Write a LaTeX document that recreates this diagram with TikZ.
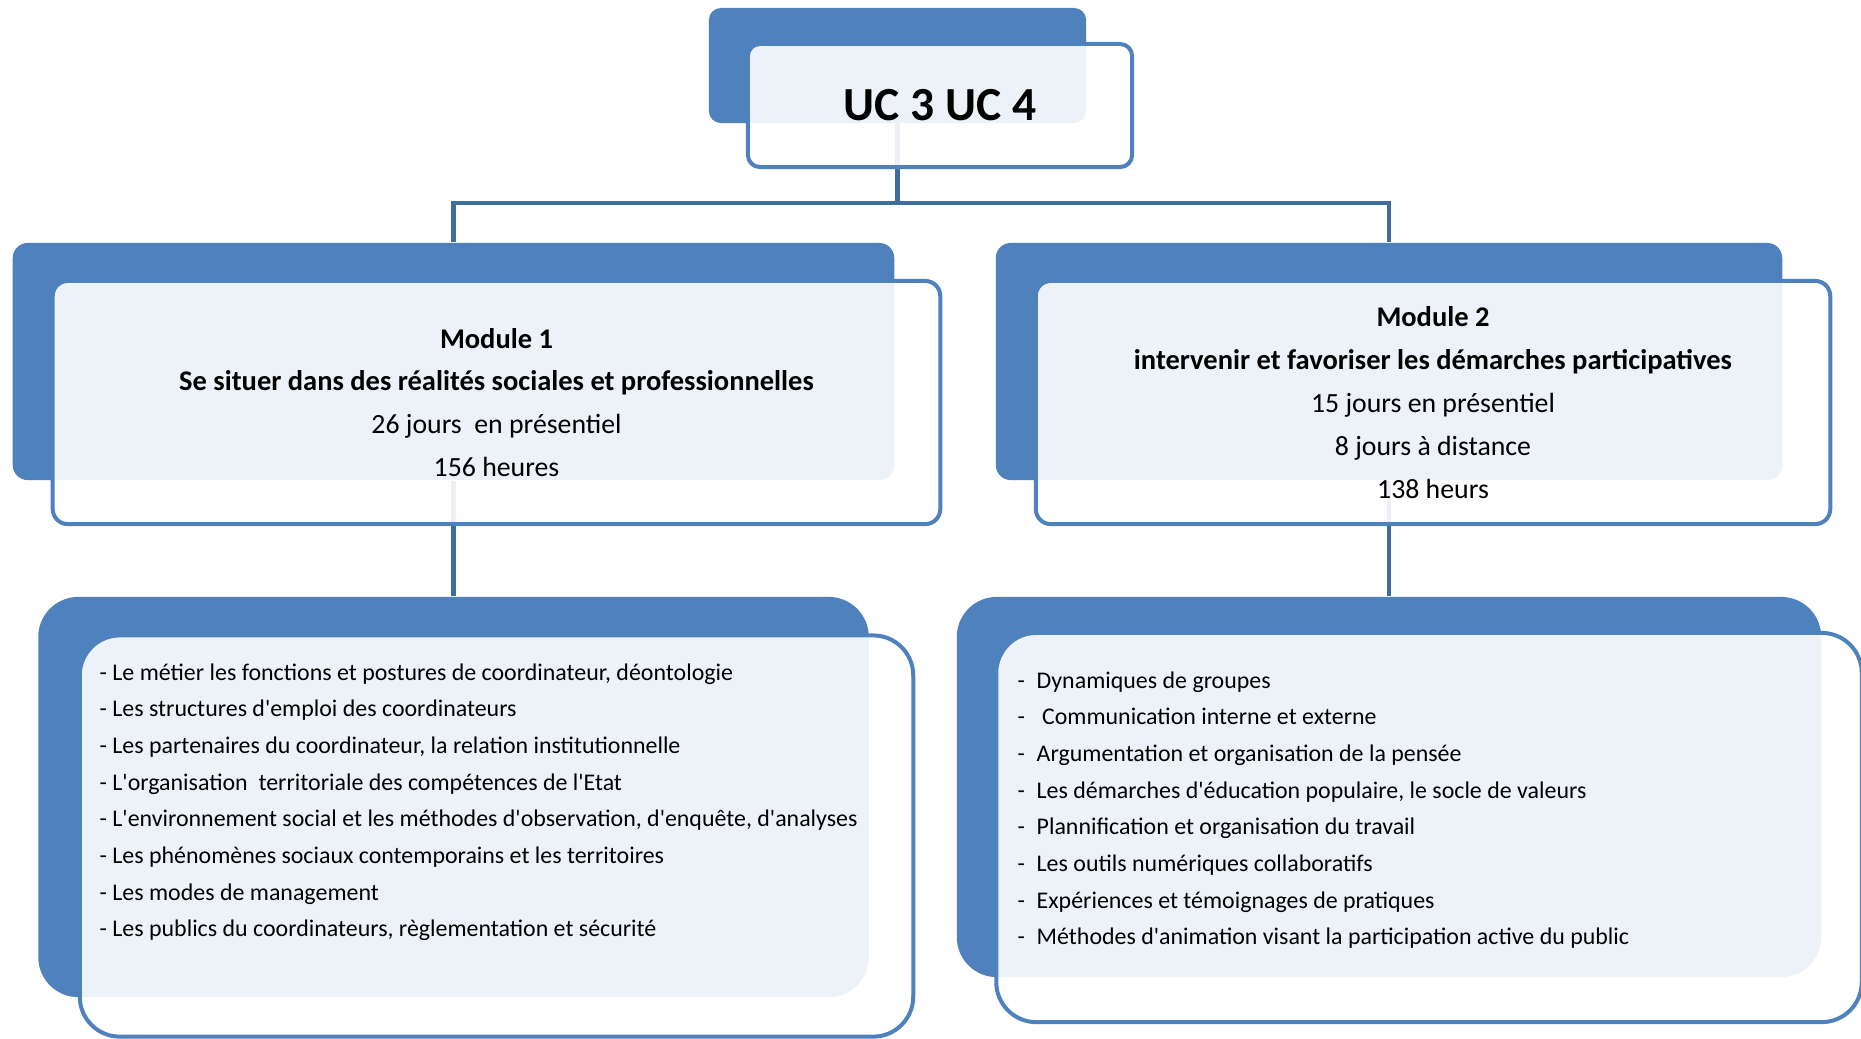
\documentclass[tikz,border=0pt]{standalone}
\usepackage{fontspec}
\setmainfont{Carlito}
\usetikzlibrary{backgrounds}
\definecolor{boxblue}{HTML}{4F81BD}
\definecolor{linkblue}{HTML}{3F6D9E}
\newcommand\apos{\textquotesingle}
\newcommand\modtitle[1]{{\bfseries\fontsize{8.1}{12.2}\selectfont #1}}
\begin{document}
\begin{tikzpicture}[x=0.01cm, y=-0.01cm,
  boxback/.style={rectangle, rounded corners=#1, fill=boxblue, inner sep=0pt},
  boxback/.default=0.15cm,
  boxfront/.style={rectangle, rounded corners=#1, draw=boxblue, line width=0.04cm, fill=white, fill opacity=0.9, text opacity=1, inner sep=0pt},
  boxfront/.default=0.15cm,
  link/.style={draw=linkblue, line width=0.045cm},
  item/.style={anchor=base west, inner sep=0pt, font=\fontsize{6.8}{8}\selectfont}]
  \useasboundingbox (0,0) rectangle (1861,1038);

  \node[boxback=0.12cm, minimum width=3.77cm, minimum height=1.15cm] (ucback) at (897.5,65.5) {};
  \node[boxfront=0.12cm, minimum width=3.84cm, minimum height=1.23cm, font=\bfseries\fontsize{13.5}{16}\selectfont] (uc) at (940,105.5) {UC 3 UC 4};

  \node[boxback, minimum width=8.81cm, minimum height=2.37cm] (m1back) at (453.5,361.5) {};
  \node[boxfront, minimum width=8.87cm, minimum height=2.43cm, align=center, font=\fontsize{7.9}{12.2}\selectfont] (m1) at (496.5,402.5)
    {\modtitle{Module 1}\\\modtitle{Se situer dans des réalités sociales et professionnelles}\\26 jours\ \ en présentiel\\156 heures};
  \node[boxback, minimum width=7.86cm, minimum height=2.37cm] (m2back) at (1389,361.5) {};
  \node[boxfront, minimum width=7.94cm, minimum height=2.43cm, align=center, font=\fontsize{7.9}{12.2}\selectfont] (m2) at (1433,402.5)
    {\modtitle{Module 2}\\\modtitle{intervenir et favoriser les démarches participatives}\\15 jours en présentiel\\8 jours à distance\\138 heurs};

  \node[boxback=0.4cm, minimum width=8.30cm, minimum height=4.00cm] (l1back) at (453.5,797) {};
  \node[boxfront=0.4cm, minimum width=8.33cm, minimum height=4.01cm] (l1) at (496.5,836) {};
  \node[boxback=0.4cm, minimum width=8.64cm, minimum height=3.80cm] (l2back) at (1389,787) {};
  \node[boxfront=0.4cm, minimum width=8.65cm, minimum height=3.89cm] (l2) at (1429,827.5) {};

  \foreach \txt [count=\i] in {{Le métier les fonctions et postures de coordinateur, déontologie},
      Les structures d\apos{}emploi des coordinateurs,
      {Les partenaires du coordinateur, la relation institutionnelle},
      L\apos{}organisation\ \ territoriale des compétences de l\apos{}Etat,
      {L\apos{}environnement social et les méthodes d\apos{}observation, d\apos{}enquête, d\apos{}analyses},
      Les phénomènes sociaux contemporains et les territoires,
      Les modes de management,
      {Les publics du coordinateurs, règlementation et sécurité}}
    \node[item] (a\i) at (99,{680+36.7*(\i-1)}) {- \txt};

  \foreach \txt [count=\i] in {Dynamiques de groupes,
      \ Communication interne et externe,
      Argumentation et organisation de la pensée,
      {Les démarches d\apos{}éducation populaire, le socle de valeurs},
      Plannification et organisation du travail,
      Les outils numériques collaboratifs,
      Expériences et témoignages de pratiques,
      Méthodes d\apos{}animation visant la participation active du public}
    \node[item] (b\i) at (1017,{688+36.7*(\i-1)}) {\makebox[0.19cm][l]{-}\txt};

  \coordinate (fork) at (897.5,203);
  \begin{scope}[on background layer]
    \draw[link] (ucback.center) -- (fork);
    \draw[link] (m1back.north) |- (fork) -| (m2back.north);
    \draw[link] (m1back.south) -- (l1back.north);
    \draw[link] (m2back.south) -- (l2back.north);
  \end{scope}
\end{tikzpicture}
\end{document}
